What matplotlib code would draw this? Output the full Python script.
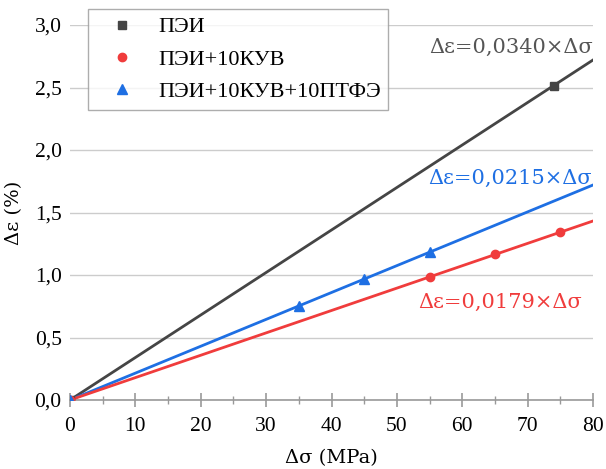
import matplotlib
matplotlib.use("Agg")
import matplotlib.pyplot as plt
import numpy as np
from matplotlib.ticker import MultipleLocator, FuncFormatter

plt.rcParams['font.family'] = ['Liberation Serif', 'DejaVu Serif']
greek_font = ['DejaVu Serif']

# Data
pei_x = [0, 74]
pei_y = [0, 2.51]
kuv_x = [0, 55, 65, 75]
kuv_y = [0, 0.984, 1.168, 1.344]
ptfe_x = [0, 35, 45, 55]
ptfe_y = [0, 0.752, 0.968, 1.184]
slopes = [0.0340, 0.0179, 0.0215]
labels = ["ПЭИ", "ПЭИ+10КУВ", "ПЭИ+10КУВ+10ПТФЭ"]
fit_range = [0, 80]

c_black = '#454545'
c_red = '#f03c3c'
c_blue = '#1e6fe3'

fig = plt.figure(figsize=(6.06, 4.69), dpi=100)
ax = fig.add_axes([70/606, 1-400/469, 523/606, 375/469])

xs = np.array(fit_range, dtype=float)
ax.plot(xs, slopes[0]*xs, color=c_black, lw=2.0, zorder=3)
ax.plot(xs, slopes[2]*xs, color=c_blue, lw=2.0, zorder=3)
ax.plot(xs, slopes[1]*xs, color=c_red, lw=2.0, zorder=3)

h1, = ax.plot(pei_x, pei_y, 's', color=c_black, ms=5.5, ls='none', zorder=4, label=labels[0])
h2, = ax.plot(kuv_x, kuv_y, 'o', color=c_red, ms=6, ls='none', zorder=4, label=labels[1])
h3, = ax.plot(ptfe_x, ptfe_y, '^', color=c_blue, ms=6.5, ls='none', zorder=4, label=labels[2])

ax.set_xlim(0, 80)
ax.set_ylim(0, 3.0)
ax.xaxis.set_major_locator(MultipleLocator(10))
ax.xaxis.set_minor_locator(MultipleLocator(5))
ax.yaxis.set_major_locator(MultipleLocator(0.5))
ax.yaxis.set_major_formatter(FuncFormatter(lambda v, p: f"{v:.1f}".replace('.', ',')))

for s in ['top', 'right', 'left']:
    ax.spines[s].set_visible(False)
ax.spines['bottom'].set_color('#999999')
ax.spines['bottom'].set_linewidth(1.2)
ax.grid(axis='y', color='#cccccc', lw=1.0)
ax.set_axisbelow(True)
ax.tick_params(axis='y', length=0, labelsize=15.5, pad=6)
ax.tick_params(axis='x', which='major', direction='inout', length=10, width=1.2, color='#999999', labelsize=15.5, pad=7)
ax.tick_params(axis='x', which='minor', direction='inout', length=6, width=1.0, color='#999999')

ax.set_xlabel("Δσ (MPa)", fontsize=14, labelpad=10, family=greek_font)
ax.set_ylabel("Δε (%)", fontsize=14, labelpad=8, family=greek_font)

ax.text(80, 2.824, "Δε=0,0340×Δσ", color='#555555', fontsize=15, ha='right', va='center', family=greek_font)
ax.text(79.8, 1.776, "Δε=0,0215×Δσ", color=c_blue, fontsize=15, ha='right', va='center', family=greek_font)
ax.text(53.2, 0.784, "Δε=0,0179×Δσ", color=c_red, fontsize=15, ha='left', va='center', family=greek_font)

leg = fig.legend(handles=[h1, h2, h3], loc='upper left',
                 bbox_to_anchor=(88/606, 1-9/469), fontsize=16,
                 frameon=True, fancybox=False, edgecolor='#999999',
                 borderpad=0.35, labelspacing=0.53, handletextpad=0.45,
                 borderaxespad=0, handlelength=2.35)
leg.get_frame().set_linewidth(1.0)

fig.savefig("out.png", dpi=100)
